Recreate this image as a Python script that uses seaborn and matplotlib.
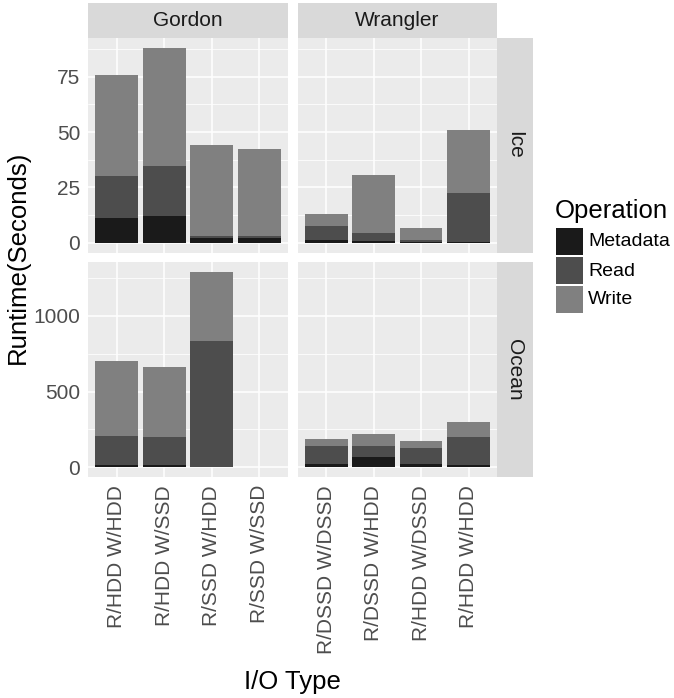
import matplotlib
matplotlib.use("Agg")
import matplotlib.pyplot as plt
import seaborn as sns
import pandas as pd
import numpy as np
from matplotlib.patches import Rectangle

# ---------------- data ----------------
gordon_types = ["R/HDD W/HDD", "R/HDD W/SSD", "R/SSD W/HDD", "R/SSD W/SSD"]
wrangler_types = ["R/DSSD W/DSSD", "R/DSSD W/HDD", "R/HDD W/DSSD", "R/HDD W/HDD"]
operations = ["Metadata", "Read", "Write"]
op_colors = ["#1a1a1a", "#4d4d4d", "#808080"]

gordon_ice_meta = [11.2, 12.1, 2.1, 2.1]
gordon_ice_read = [18.9, 22.6, 0.9, 0.9]
gordon_ice_write = [45.7, 53.3, 41.1, 39.3]

wrangler_ice_meta = [1.2, 0.8, 0.2, 0.5]
wrangler_ice_read = [6.3, 3.6, 1.0, 22.0]
wrangler_ice_write = [5.5, 26.2, 5.4, 28.4]

gordon_ocean_meta = [13, 13, 0, 0]
gordon_ocean_read = [192, 186, 834, 0]
gordon_ocean_write = [497, 463, 457, 0]

wrangler_ocean_meta = [20, 66, 20, 13]
wrangler_ocean_read = [119, 73, 106, 186]
wrangler_ocean_write = [46, 80, 46, 99]

ice_ticks = [0, 25, 50, 75]
ocean_ticks = [0, 500, 1000]

rows = []
def add(machine, dataset, types, meta, read, write):
    for t, m, r, w in zip(types, meta, read, write):
        rows.append(dict(Machine=machine, Dataset=dataset, Type=t, Metadata=m, Read=r, Write=w))

add("Gordon", "Ice", gordon_types, gordon_ice_meta, gordon_ice_read, gordon_ice_write)
add("Wrangler", "Ice", wrangler_types, wrangler_ice_meta, wrangler_ice_read, wrangler_ice_write)
add("Gordon", "Ocean", gordon_types, gordon_ocean_meta, gordon_ocean_read, gordon_ocean_write)
add("Wrangler", "Ocean", wrangler_types, wrangler_ocean_meta, wrangler_ocean_read, wrangler_ocean_write)
df = pd.DataFrame(rows)
df["c_meta"] = df["Metadata"]
df["c_read"] = df["Metadata"] + df["Read"]
df["c_write"] = df["Metadata"] + df["Read"] + df["Write"]

# ---------------- figure ----------------
sns.set_theme(style="darkgrid")
plt.rcParams["font.family"] = ["Liberation Sans", "DejaVu Sans"]
W, H = 674, 698
fig = plt.figure(figsize=(W / 100, H / 100), dpi=100)
fig.patch.set_facecolor("white")

def fx(px):
    return px / W
def fy(py):
    return 1 - py / H

col_x = {"Gordon": (88, 288), "Wrangler": (297.7, 497)}
row_y = {"Ice": (38, 252.7), "Ocean": (262, 477)}
col_types = {"Gordon": gordon_types, "Wrangler": wrangler_types}
row_ticks = {"Ice": ice_ticks, "Ocean": ocean_ticks}

tick_fs = 15
legend_fs = 14
title_fs = 18.5
for dataset in ["Ice", "Ocean"]:
    sub_row = df[df.Dataset == dataset]
    ymax = sub_row["c_write"].max()
    ylim = (-0.05 * ymax, 1.05 * ymax)
    for machine in ["Gordon", "Wrangler"]:
        x0, x1 = col_x[machine]
        y0, y1 = row_y[dataset]
        ax = fig.add_axes([fx(x0), fy(y1), fx(x1) - fx(x0), (y1 - y0) / H])
        ax.set_facecolor("#ebebeb")
        sub = sub_row[sub_row.Machine == machine]
        order = col_types[machine]
        for col, color in zip(["c_write", "c_read", "c_meta"], op_colors[::-1]):
            sns.barplot(data=sub, x="Type", y=col, order=order, color=color,
                        width=0.9, saturation=1, errorbar=None, ax=ax,
                        linewidth=0, edgecolor="none")
        ax.set_xlim(-0.6, 3.6)
        ax.set_ylim(*ylim)
        ticks = row_ticks[dataset]
        ax.set_yticks(ticks)
        step = ticks[1] - ticks[0]
        minor = [t + step / 2 for t in ([ticks[0] - step] + ticks) if ylim[0] < t + step / 2 < ylim[1]]
        ax.set_yticks(minor, minor=True)
        ax.grid(True, which="major", color="white", linewidth=1.1)
        ax.grid(True, which="minor", axis="y", color="white", linewidth=0.55)
        ax.set_axisbelow(True)
        for s in ax.spines.values():
            s.set_visible(False)
        ax.set_xlabel("")
        ax.set_ylabel("")
        ax.tick_params(axis="both", which="major", length=3.2, width=0.8, color="#333333",
                       labelsize=tick_fs, labelcolor="#4d4d4d", pad=2.5)
        ax.tick_params(axis="y", which="minor", length=0)
        if machine == "Gordon":
            ax.set_yticklabels([str(t) for t in ticks])
        else:
            ax.tick_params(axis="y", which="major", length=0, labelleft=False)
        if dataset == "Ocean":
            ax.set_xticks(range(len(order)))
            ax.set_xticklabels(order, rotation=90)
        else:
            ax.tick_params(axis="x", length=0, labelbottom=False)

# strips
strip_color = "#d9d9d9"
for machine in ["Gordon", "Wrangler"]:
    x0, x1 = col_x[machine]
    fig.patches.append(Rectangle((fx(x0), fy(38)), fx(x1) - fx(x0), (38 - 3) / H,
                                 transform=fig.transFigure, facecolor=strip_color, edgecolor="none"))
    fig.text(fx((x0 + x1) / 2), fy(21), machine, ha="center", va="center",
             fontsize=tick_fs, color="#1a1a1a")
for dataset in ["Ice", "Ocean"]:
    y0, y1 = row_y[dataset]
    fig.patches.append(Rectangle((fx(497), fy(y1)), fx(532.7) - fx(497), (y1 - y0) / H,
                                 transform=fig.transFigure, facecolor=strip_color, edgecolor="none"))
    fig.text(fx(515), fy((y0 + y1) / 2), dataset, ha="center", va="center",
             rotation=-90, fontsize=tick_fs, color="#1a1a1a")

# axis titles
fig.text(fx(18), fy(257), "Runtime(Seconds)", rotation=90, ha="center", va="center",
         fontsize=title_fs, color="black")
fig.text(fx(292.5), fy(682), "I/O Type", ha="center", va="center",
         fontsize=title_fs, color="black")

# legend
fig.text(fx(555), fy(211), "Operation", ha="left", va="center", fontsize=title_fs, color="black")
key_tops = [228, 257, 286]
for op, c, top in zip(operations, op_colors, key_tops):
    fig.patches.append(Rectangle((fx(556), fy(top + 27)), fx(583) - fx(556), 27 / H,
                                 transform=fig.transFigure, facecolor=c, edgecolor="none"))
    fig.text(fx(588), fy(top + 14), op, ha="left", va="center", fontsize=legend_fs, color="black")

fig.savefig("out.png", dpi=100, facecolor="white")
